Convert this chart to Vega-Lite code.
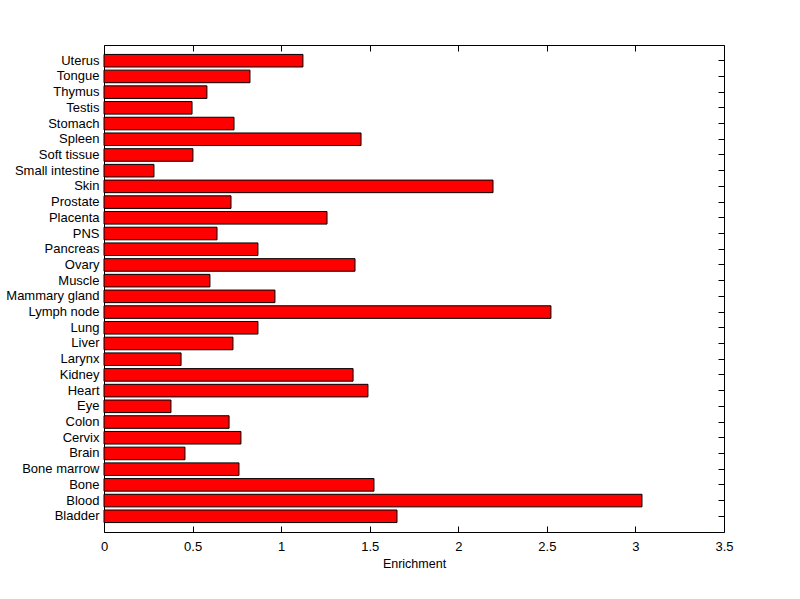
{
  "$schema": "https://vega.github.io/schema/vega-lite/v6.json",
  "autosize": "none",
  "width": 620,
  "height": 487,
  "padding": {"left": 104, "top": 45, "right": 76, "bottom": 67},
  "background": "white",
  "config": {
    "view": {"stroke": "black", "strokeWidth": 1},
    "axis": {
      "labelFont": "Liberation Sans",
      "titleFont": "Liberation Sans",
      "labelFontSize": 13,
      "titleFontSize": 12.5,
      "titleFontWeight": "normal",
      "labelColor": "black",
      "titleColor": "black",
      "tickColor": "black",
      "domain": false,
      "grid": false
    }
  },
  "data": {
    "values": [
      {"tissue": "Uterus", "enrichment": 1.123},
      {"tissue": "Tongue", "enrichment": 0.824},
      {"tissue": "Thymus", "enrichment": 0.581},
      {"tissue": "Testis", "enrichment": 0.497},
      {"tissue": "Stomach", "enrichment": 0.734},
      {"tissue": "Spleen", "enrichment": 1.451},
      {"tissue": "Soft tissue", "enrichment": 0.502},
      {"tissue": "Small intestine", "enrichment": 0.282},
      {"tissue": "Skin", "enrichment": 2.196},
      {"tissue": "Prostate", "enrichment": 0.717},
      {"tissue": "Placenta", "enrichment": 1.259},
      {"tissue": "PNS", "enrichment": 0.638},
      {"tissue": "Pancreas", "enrichment": 0.869},
      {"tissue": "Ovary", "enrichment": 1.417},
      {"tissue": "Muscle", "enrichment": 0.598},
      {"tissue": "Mammary gland", "enrichment": 0.965},
      {"tissue": "Lymph node", "enrichment": 2.523},
      {"tissue": "Lung", "enrichment": 0.869},
      {"tissue": "Liver", "enrichment": 0.728},
      {"tissue": "Larynx", "enrichment": 0.435},
      {"tissue": "Kidney", "enrichment": 1.406},
      {"tissue": "Heart", "enrichment": 1.49},
      {"tissue": "Eye", "enrichment": 0.378},
      {"tissue": "Colon", "enrichment": 0.706},
      {"tissue": "Cervix", "enrichment": 0.773},
      {"tissue": "Brain", "enrichment": 0.457},
      {"tissue": "Bone marrow", "enrichment": 0.762},
      {"tissue": "Bone", "enrichment": 1.524},
      {"tissue": "Blood", "enrichment": 3.037},
      {"tissue": "Bladder", "enrichment": 1.654}
    ]
  },
  "layer": [
    {
      "mark": {"type": "bar", "color": "#ff0000", "stroke": "black", "strokeWidth": 1},
      "encoding": {
        "y": {"field": "tissue", "type": "nominal", "sort": [
          "Uterus", "Tongue", "Thymus", "Testis", "Stomach", "Spleen", "Soft tissue", "Small intestine", "Skin", "Prostate", "Placenta", "PNS", "Pancreas", "Ovary", "Muscle", "Mammary gland", "Lymph node", "Lung", "Liver", "Larynx", "Kidney", "Heart", "Eye", "Colon", "Cervix", "Brain", "Bone marrow", "Bone", "Blood", "Bladder"
        ], "scale": {"paddingInner": 0.2, "paddingOuter": 0.6},
          "axis": {"orient": "left", "title": null, "tickSize": -6, "labelPadding": 11}},
        "x": {"field": "enrichment", "type": "quantitative", "scale": {"domain": [0, 3.5], "nice": false, "zero": true},
          "axis": {"orient": "bottom", "title": "Enrichment", "values": [0, 0.5, 1, 1.5, 2, 2.5, 3, 3.5], "format": "~g", "tickSize": -6, "labelPadding": 14, "titlePadding": 4, "labelFlush": false}}
      }
    },
    {
      "mark": {"type": "bar", "opacity": 0},
      "encoding": {
        "y": {"field": "tissue", "type": "nominal", "sort": [
          "Uterus", "Tongue", "Thymus", "Testis", "Stomach", "Spleen", "Soft tissue", "Small intestine", "Skin", "Prostate", "Placenta", "PNS", "Pancreas", "Ovary", "Muscle", "Mammary gland", "Lymph node", "Lung", "Liver", "Larynx", "Kidney", "Heart", "Eye", "Colon", "Cervix", "Brain", "Bone marrow", "Bone", "Blood", "Bladder"
        ], "scale": {"paddingInner": 0.2, "paddingOuter": 0.6},
          "axis": {"orient": "right", "title": null, "labels": false, "tickSize": -6}},
        "x": {"field": "enrichment", "type": "quantitative", "scale": {"domain": [0, 3.5], "nice": false, "zero": true},
          "axis": {"orient": "top", "title": null, "labels": false, "values": [0, 0.5, 1, 1.5, 2, 2.5, 3, 3.5], "tickSize": -6}}
      }
    }
  ],
  "resolve": {"axis": {"x": "independent", "y": "independent"}}
}
